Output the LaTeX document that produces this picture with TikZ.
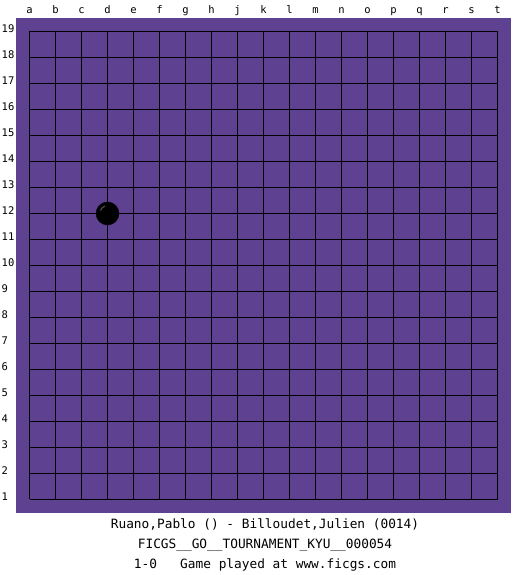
\documentclass[tikz,border=0pt]{standalone}
\usepackage{fontspec}
\setmonofont{DejaVu Sans Mono}
\usepackage{xcolor}
\usepackage{tikz}
\definecolor{boardpurple}{RGB}{95,65,145}
\tikzset{
  gridline/.style={black, line width=1pt},
  coordlabel/.style={inner sep=0pt, font=\ttfamily\fontsize{10.5}{10.5}\selectfont},
  infotext/.style={inner sep=0pt, anchor=base, font=\ttfamily\fontsize{12.8}{12.8}\selectfont},
  blackstone/.style={circle, fill=black, draw=black, minimum size=23pt, inner sep=0pt}
}
\begin{document}
\begin{tikzpicture}[x=1pt, y=1pt]
  \useasboundingbox (0,0) rectangle (525,575);
  \fill[white] (0,0) rectangle (525,575);
  % board
  \fill[boardpurple] (16,62.3) rectangle (511,557);
  \foreach \i in {0,...,18} {
    \draw[gridline] (29.5+26*\i,75.5) -- (29.5+26*\i,543.5);
    \draw[gridline] (29.5,75.5+26*\i) -- (497.5,75.5+26*\i);
  }
  % column letters
  \foreach \c [count=\i from 0] in {a,b,c,d,e,f,g,h,j,k,l,m,n,o,p,q,r,s,t}
    \node[coordlabel, anchor=base] (col\c) at (29.5+26*\i,561) {\c};
  % row numbers
  \foreach \r in {1,...,19}
    \node[coordlabel, anchor=base west] (row\r) at (1.5,74+26*\r-26) {\r};
  % stone on d12
  \node[blackstone] (stoned12) at (107.5,361.5) {};
  \draw[gray!60!black, line width=1.2pt] (stoned12.center) ++(-7,3) arc[start angle=160, end angle=110, radius=7.5];
  % game info
  \node[infotext] (players) at (265,46.5) {Ruano,Pablo () - Billoudet,Julien (0014)};
  \node[infotext] (event) at (265,26.5) {FICGS\_\_GO\_\_TOURNAMENT\_KYU\_\_000054};
  \node[infotext] (result) at (265,6.5) {1-0\ \ \ Game played at www.ficgs.com};
\end{tikzpicture}
\end{document}
